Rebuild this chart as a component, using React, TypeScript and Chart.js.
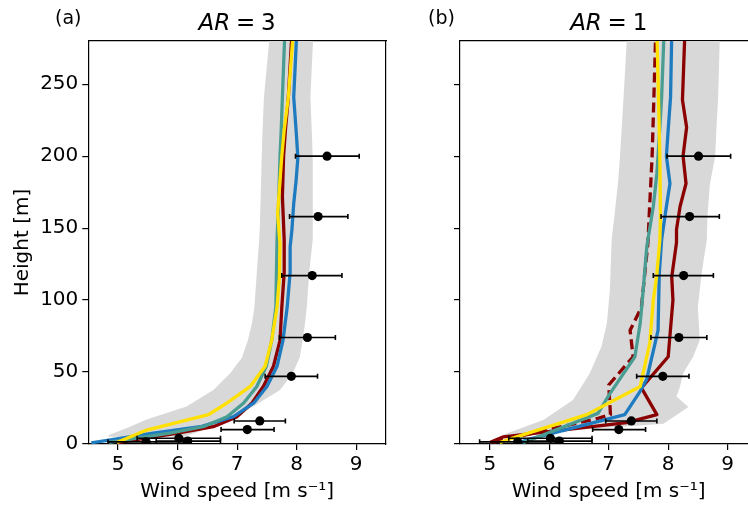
import React, { useEffect, useRef } from 'react';
import { Chart, registerables } from 'chart.js';

Chart.register(...registerables);

const FONT = '"DejaVu Sans", sans-serif';

// axes
const xTicks = [5, 6, 7, 8, 9];
const yTicks = [0, 50, 100, 150, 200, 250];

// observations (dots with horizontal error bars)
const obsHeight = [1.5, 4, 2, 10, 16, 47, 74, 117, 158, 200];
const obsSpeed = [5.47, 6.02, 6.17, 7.17, 7.38, 7.91, 8.18, 8.26, 8.36, 8.51];
const obsLow = [4.83, 5.32, 5.64, 6.73, 6.95, 7.47, 7.71, 7.75, 7.88, 7.98];
const obsHigh = [6.1, 6.72, 6.72, 7.62, 7.81, 8.35, 8.65, 8.76, 8.86, 9.05];

// panel (a) AR = 3 : grey band
const bandALeftH = [5, 6, 12, 17, 26, 37.5, 49, 60, 72, 84, 95, 119, 142, 149, 195, 211, 241, 285];
const bandALeftX = [4.84, 4.84, 5.2, 5.48, 6.15, 6.6, 6.88, 7.08, 7.18, 7.25, 7.29, 7.33, 7.37, 7.38, 7.41, 7.42, 7.45, 7.55];
const bandARightH = [285, 241, 211, 195, 149, 142, 119, 95, 84, 72, 60, 49, 37.5, 26, 17, 12, 5];
const bandARightX = [8.28, 8.23, 8.26, 8.27, 8.27, 8.27, 8.21, 8.17, 8.14, 8.1, 8.05, 7.93, 7.72, 7.27, 6.88, 6.6, 6.1];

// panel (a) curves
const blueAH = [0.8, 7.6, 12, 19, 28.5, 40, 54, 72, 95, 119, 137, 149, 167, 183, 199, 218, 241, 285];
const blueAX = [4.55, 5.59, 6.38, 6.94, 7.28, 7.5, 7.67, 7.77, 7.84, 7.89, 7.89, 7.92, 7.95, 7.99, 8.02, 7.99, 7.95, 8.0];
const redAH = [1, 7.6, 12, 19, 28.5, 40, 54, 72, 95, 119, 142, 172, 200, 218, 241, 285];
const redAX = [5.0, 6.0, 6.6, 7.0, 7.25, 7.44, 7.61, 7.72, 7.75, 7.79, 7.79, 7.76, 7.78, 7.81, 7.86, 7.92];
const tealAH = [1.2, 7.6, 12, 19, 28.5, 40, 54, 72, 95, 119, 142, 172, 200, 218, 241, 285];
const tealAX = [4.85, 5.87, 6.43, 6.83, 7.11, 7.33, 7.49, 7.58, 7.65, 7.66, 7.67, 7.7, 7.72, 7.74, 7.76, 7.8];
const yellowAH = [1, 9.7, 20.4, 28.5, 40, 54, 72, 95, 116, 139, 160, 183, 200, 218, 241, 285];
const yellowAX = [4.98, 5.48, 6.52, 6.83, 7.22, 7.47, 7.58, 7.67, 7.71, 7.72, 7.68, 7.72, 7.75, 7.79, 7.86, 7.94];

// panel (b) AR = 1 : grey band
const bandBLeftH = [6, 16.7, 30.6, 49, 68, 84, 107, 142, 160, 183, 200, 241, 285];
const bandBLeftX = [5.2, 5.9, 6.4, 6.68, 6.88, 6.97, 7.02, 7.05, 7.1, 7.16, 7.19, 7.25, 7.31];
const bandBRightH = [285, 241, 218, 200, 180, 158, 142, 118, 95, 72, 60.6, 49, 40, 33, 25.7, 14];
const bandBRightX = [8.87, 8.84, 8.81, 8.79, 8.7, 8.66, 8.65, 8.56, 8.5, 8.53, 8.42, 8.25, 8.2, 8.14, 8.34, 7.92];

// panel (b) curves
const redBH = [1, 5, 14.8, 20.4, 39, 60.6, 100, 116, 140, 149, 165, 181, 200, 220, 239, 285];
const redBX = [5.0, 5.23, 7.3, 7.81, 7.55, 8.0, 8.08, 8.06, 8.14, 8.14, 8.2, 8.3, 8.25, 8.31, 8.24, 8.28];
const dashedBH = [1.2, 17.8, 20.4, 41, 60.6, 79, 95, 140, 167, 200, 241, 285];
const dashedBX = [5.06, 6.82, 7.03, 7.0, 7.41, 7.36, 7.55, 7.66, 7.69, 7.73, 7.76, 7.79];
const tealBH = [1, 2.8, 21.3, 35, 60.6, 84, 107, 137, 165, 188, 213, 241, 285];
const tealBX = [5.56, 5.68, 6.82, 7.02, 7.44, 7.53, 7.58, 7.64, 7.75, 7.81, 7.85, 7.89, 7.93];
const yellowBH = [1, 5, 20.4, 40, 70, 100, 118, 142, 158, 200, 253, 285];
const yellowBX = [5.17, 5.45, 6.63, 7.53, 7.69, 7.75, 7.81, 7.86, 7.87, 7.86, 7.83, 7.81];
const blueBH = [1, 2.8, 20.4, 36, 45, 79, 118, 142, 165, 181, 200, 218, 241, 285];
const blueBX = [5.51, 5.62, 7.27, 7.52, 7.64, 7.83, 7.85, 7.89, 7.97, 8.03, 7.97, 8.0, 8.04, 8.06];

const C_BLUE = '#1f7bc0';
const C_RED = '#8b0000';
const C_TEAL = '#4a9d92';
const C_YELLOW = '#ffe000';
const C_BAND = 'rgb(216,216,216)';

const pts = (xs: number[], hs: number[]) => xs.map((x, i) => ({ x, y: hs[i] }));

const bandPlugin = {
  id: 'band',
  beforeDatasetsDraw(chart: any, _args: any, opts: any) {
    const { ctx, chartArea, scales } = chart;
    const sx = scales.x, sy = scales.y;
    ctx.save();
    ctx.beginPath();
    ctx.rect(chartArea.left, chartArea.top, chartArea.right - chartArea.left, chartArea.bottom - chartArea.top);
    ctx.clip();
    ctx.beginPath();
    opts.leftX.forEach((v: number, i: number) => {
      const px = sx.getPixelForValue(v), py = sy.getPixelForValue(opts.leftH[i]);
      if (i === 0) ctx.moveTo(px, py); else ctx.lineTo(px, py);
    });
    opts.rightX.forEach((v: number, i: number) => {
      ctx.lineTo(sx.getPixelForValue(v), sy.getPixelForValue(opts.rightH[i]));
    });
    ctx.closePath();
    ctx.fillStyle = C_BAND;
    ctx.fill();
    ctx.restore();
  },
};

const errorPlugin = {
  id: 'errbars',
  beforeDatasetDraw(chart: any, args: any) {
    if (args.index !== 0) return;
    const { ctx, chartArea, scales } = chart;
    const sx = scales.x, sy = scales.y;
    ctx.save();
    ctx.beginPath();
    ctx.rect(chartArea.left, chartArea.top, chartArea.right - chartArea.left, chartArea.bottom - chartArea.top);
    ctx.clip();
    ctx.strokeStyle = '#000';
    ctx.lineWidth = 1.6;
    obsHeight.forEach((h, i) => {
      const py = sy.getPixelForValue(h);
      const x0 = sx.getPixelForValue(obsLow[i]);
      const x1 = sx.getPixelForValue(obsHigh[i]);
      ctx.beginPath();
      ctx.moveTo(x0, py); ctx.lineTo(x1, py);
      ctx.moveTo(x0, py - 2.5); ctx.lineTo(x0, py + 2.5);
      ctx.moveTo(x1, py - 2.5); ctx.lineTo(x1, py + 2.5);
      ctx.stroke();
    });
    ctx.restore();
  },
};

const titlePlugin = {
  id: 'panelTitle',
  afterDraw(chart: any, _args: any, opts: any) {
    const { ctx, chartArea } = chart;
    ctx.save();
    ctx.fillStyle = '#000';
    ctx.textBaseline = 'alphabetic';
    ctx.textAlign = 'left';
    ctx.font = `19px ${FONT}`;
    ctx.fillText(opts.label, opts.labelX, 24);
    const italic = `italic 23px ${FONT}`;
    const normal = `23px ${FONT}`;
    ctx.font = italic;
    const w1 = ctx.measureText('AR').width;
    ctx.font = normal;
    const rest = '\u2005=\u2005' + opts.value;
    const w2 = ctx.measureText(rest).width;
    const cx = (chartArea.left + chartArea.right) / 2;
    const x0 = cx - (w1 + w2) / 2;
    ctx.font = italic;
    ctx.fillText('AR', x0, 30);
    ctx.font = normal;
    ctx.fillText(rest, x0 + w1, 30);
    ctx.restore();
  },
};

function lineDs(xs: number[], hs: number[], color: string, dash?: number[]) {
  return {
    data: pts(xs, hs),
    showLine: true,
    borderColor: color,
    backgroundColor: color,
    borderWidth: 3.3,
    borderDash: dash || [],
    borderJoinStyle: 'round',
    borderCapStyle: 'butt',
    pointRadius: 0,
    tension: 0,
    fill: false,
    clip: 0,
  };
}

function makeConfig(panel: 'a' | 'b') {
  const isA = panel === 'a';
  const dots = {
    data: pts(obsSpeed, obsHeight),
    pointRadius: 4.6,
    pointBackgroundColor: '#000',
    pointBorderColor: '#000',
    pointBorderWidth: 0,
    showLine: false,
    clip: 0,
  };
  const lines = isA
    ? [
        lineDs(yellowAX, yellowAH, C_YELLOW),
        lineDs(tealAX, tealAH, C_TEAL),
        lineDs(blueAX, blueAH, C_BLUE),
        lineDs(redAX, redAH, C_RED),
      ]
    : [
        lineDs(yellowBX, yellowBH, C_YELLOW),
        lineDs(tealBX, tealBH, C_TEAL),
        lineDs(blueBX, blueBH, C_BLUE),
        lineDs(dashedBX, dashedBH, C_RED, [10, 5]),
        lineDs(redBX, redBH, C_RED),
      ];
  const axisFont = { family: FONT, size: 20 };
  const borderCfg = { display: true, color: '#000', width: 1.2 };
  const tickGrid = { display: true, drawOnChartArea: false, drawTicks: true, tickLength: 6, color: '#000', lineWidth: 1.2 };
  return {
    type: 'scatter',
    data: { datasets: [dots, ...lines] },
    plugins: [bandPlugin, errorPlugin, titlePlugin],
    options: {
      responsive: false,
      animation: false,
      events: [],
      layout: { padding: { left: 0, right: isA ? 6 : 4.5, top: 41, bottom: 0 } },
      plugins: {
        legend: { display: false },
        tooltip: { enabled: false },
        band: isA
          ? { leftH: bandALeftH, leftX: bandALeftX, rightH: bandARightH, rightX: bandARightX }
          : { leftH: bandBLeftH, leftX: bandBLeftX, rightH: bandBRightH, rightX: bandBRightX },
        panelTitle: isA ? { label: '(a)', labelX: 55, value: '3' } : { label: '(b)', labelX: 428 - 390, value: '1' },
      },
      scales: {
        x: {
          type: 'linear',
          position: 'bottom',
          min: 4.5,
          max: 9.5,
          afterBuildTicks: (s: any) => { s.ticks = xTicks.map((v) => ({ value: v })); },
          afterFit: (s: any) => { s.height = 61; },
          ticks: { font: axisFont, color: '#000', padding: 3, maxRotation: 0 },
          grid: tickGrid,
          border: borderCfg,
          title: { display: true, text: 'Wind speed [m s⁻¹]', font: axisFont, color: '#000', padding: { top: 0, bottom: 1 } },
        },
        x2: {
          type: 'linear',
          position: 'top',
          min: 4.5,
          max: 9.5,
          ticks: { display: false },
          grid: { display: false },
          border: borderCfg,
          afterFit: (s: any) => { s.height = 0; },
        },
        y: {
          type: 'linear',
          position: 'left',
          min: 0,
          max: 280,
          afterBuildTicks: (s: any) => { s.ticks = yTicks.map((v) => ({ value: v })); },
          afterFit: (s: any) => { s.width = isA ? 88.3 : 70; },
          ticks: { font: axisFont, color: '#000', padding: 4, callback: isA ? (v: any) => String(v) : () => '' },
          grid: tickGrid,
          border: borderCfg,
          title: isA
            ? { display: true, text: 'Height [m]', font: axisFont, color: '#000', padding: { top: 11, bottom: 0 } }
            : { display: false },
        },
        y2: {
          type: 'linear',
          position: 'right',
          min: 0,
          max: 280,
          ticks: { display: false },
          grid: { display: false },
          border: borderCfg,
          afterFit: (s: any) => { s.width = 0; },
        },
      },
    },
  };
}

export default function App() {
  const refA = useRef<HTMLCanvasElement>(null);
  const refB = useRef<HTMLCanvasElement>(null);
  useEffect(() => {
    const ca = new Chart(refA.current as HTMLCanvasElement, makeConfig('a') as any);
    const cb = new Chart(refB.current as HTMLCanvasElement, makeConfig('b') as any);
    return () => { ca.destroy(); cb.destroy(); };
  }, []);
  return (
    <div style={{ position: 'fixed', left: 0, top: 0, width: 748, height: 505, overflow: 'hidden', background: '#fff' }}>
      <canvas ref={refA} width={392} height={505} style={{ position: 'absolute', left: 0, top: 0 }} />
      <canvas ref={refB} width={372} height={505} style={{ position: 'absolute', left: 390, top: 0 }} />
    </div>
  );
}
